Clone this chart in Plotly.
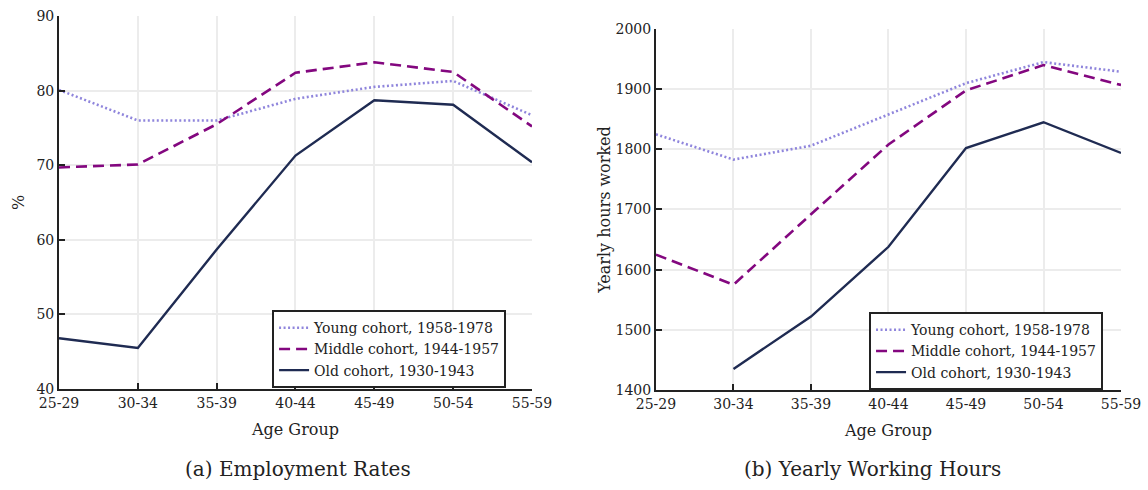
import plotly.graph_objects as go

age_groups = ["25-29", "30-34", "35-39", "40-44", "45-49", "50-54", "55-59"]

# Employment rates (%)
emp_young = [80.1, 76.0, 76.0, 78.9, 80.5, 81.3, 76.7]
emp_middle = [69.7, 70.1, 75.5, 82.4, 83.8, 82.5, 75.2]
emp_old = [46.8, 45.5, 58.7, 71.3, 78.7, 78.1, 70.4]

# Yearly hours worked
hrs_young = [1825, 1783, 1806, 1858, 1910, 1945, 1929]
hrs_middle = [1625, 1575, 1692, 1808, 1898, 1940, 1907]
hrs_old = [None, 1435, 1522, 1638, 1802, 1845, 1794]

series_names = ["Young cohort, 1958-1978", "Middle cohort, 1944-1957", "Old cohort, 1930-1943"]
colors = ["#8f85dc", "#83077f", "#1f2b52"]
dashes = ["2px,2.5px", "11px,6px", "solid"]
widths = [2.6, 2.6, 2.4]

FONT = "DejaVu Serif"

fig = go.Figure()

for name, ys, c, d, w in zip(series_names, [emp_young, emp_middle, emp_old], colors, dashes, widths):
    fig.add_trace(go.Scatter(x=age_groups, y=ys, mode="lines", name=name,
                             line=dict(color=c, dash=d, width=w),
                             xaxis="x", yaxis="y", legend="legend"))

for name, ys, c, d, w in zip(series_names, [hrs_young, hrs_middle, hrs_old], colors, dashes, widths):
    fig.add_trace(go.Scatter(x=age_groups, y=ys, mode="lines", name=name,
                             line=dict(color=c, dash=d, width=w),
                             xaxis="x2", yaxis="y2", legend="legend2"))

axis_common = dict(
    showline=True, linecolor="#222", linewidth=2,
    showgrid=True, gridcolor="#ececec", gridwidth=1.5,
    ticks="inside", ticklen=6, tickwidth=1.5, tickcolor="#222",
    tickfont=dict(family=FONT, size=14, color="#222"),
    zeroline=False, mirror=False, automargin=False,
)

title_font = dict(size=16, family=FONT, color="#222")

fig.update_layout(
    width=1148, height=490,
    margin=dict(l=0, r=0, t=0, b=0),
    paper_bgcolor="white", plot_bgcolor="white",
    font=dict(family=FONT, color="#222"),
    xaxis=dict(domain=[0.0514, 0.4634], anchor="y", type="category",
               range=[0, 6], title=dict(text="Age Group", font=title_font, standoff=14),
               **axis_common),
    yaxis=dict(domain=[0.2061, 0.9673], anchor="x", range=[40, 90], dtick=10,
               title=dict(text="%", font=title_font, standoff=8),
               **axis_common),
    xaxis2=dict(domain=[0.5714, 0.9765], anchor="y2", type="category",
                range=[0, 6], title=dict(text="Age Group", font=title_font, standoff=14),
                **axis_common),
    yaxis2=dict(domain=[0.2041, 0.9408], anchor="x2", range=[1400, 2000], dtick=100,
                title=dict(text="Yearly hours worked", font=title_font, standoff=1),
                **axis_common),
    legend=dict(x=0.237, y=0.367, xanchor="left", yanchor="top",
                bgcolor="white", bordercolor="#222", borderwidth=2,
                font=dict(family=FONT, size=14, color="#222"),
                tracegroupgap=0, itemwidth=30),
    legend2=dict(x=0.757, y=0.363, xanchor="left", yanchor="top",
                 bgcolor="white", bordercolor="#222", borderwidth=2,
                 font=dict(family=FONT, size=14, color="#222"),
                 tracegroupgap=0, itemwidth=30),
    annotations=[
        dict(text="(a) Employment Rates", x=0.26, y=0.043, xref="paper", yref="paper",
             xanchor="center", yanchor="middle", showarrow=False,
             font=dict(family=FONT, size=20, color="#222")),
        dict(text="(b) Yearly Working Hours", x=0.76, y=0.043, xref="paper", yref="paper",
             xanchor="center", yanchor="middle", showarrow=False,
             font=dict(family=FONT, size=20, color="#222")),
    ],
)

fig.write_html("out.html")
